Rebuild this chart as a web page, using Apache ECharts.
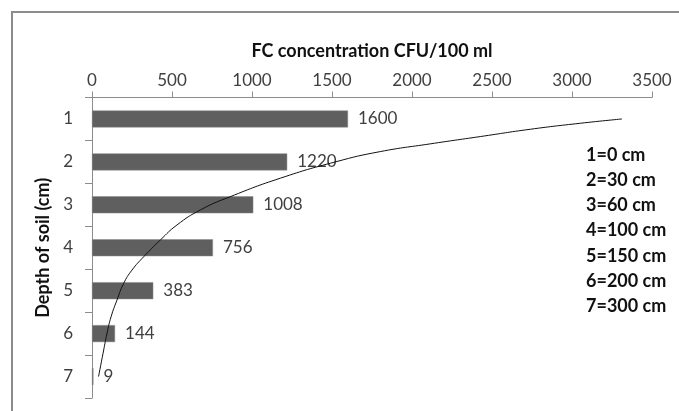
<html>
<head>
<meta charset="utf-8">
<title>FC concentration</title>
<style type="text/css">
body { margin: 0; background: #fff; }
#chart { width: 679px; height: 411px; }
</style>
<script src="https://cdn.jsdelivr.net/npm/echarts@6/dist/echarts.min.js"></script>
</head>
<body>
<div id="chart"></div>
<script type="text/javascript">
// depth classes, top to bottom
var depths = ['1', '2', '3', '4', '5', '6', '7'];
var fc = [1600, 1220, 1008, 756, 383, 144, 9];
var depthKey = ['1=0 cm', '2=30 cm', '3=60 cm', '4=100 cm', '5=150 cm', '6=200 cm', '7=300 cm'];
var xTicks = [0, 3500, 500];

// trend curve: concentration and position on the depth scale
var trendFc = [3312, 3052, 2739, 2427, 2114, 1802, 1521, 1177, 864, 677, 531, 427, 323, 250, 198, 156, 119, 94, 69, 41];
var trendDepth = [1.0, 1.10, 1.24, 1.41, 1.58, 1.76, 2.0, 2.38, 2.81, 3.12, 3.47, 3.82, 4.21, 4.52, 4.83, 5.22, 5.61, 5.99, 6.46, 7.0];

var trend = [];
for (var i = 0; i < trendFc.length; i++) {
    trend.push([trendFc[i], trendDepth[i]]);
}

var font = 'Lato, "Noto Sans", sans-serif';
var keyText = [];
for (var j = 0; j < depthKey.length; j++) {
    keyText.push({
        type: 'text',
        left: 586,
        top: 146 + j * 25.2,
        style: { text: depthKey[j], fontFamily: font, fontSize: 18, fontWeight: 'bold', fill: '#111' }
    });
}

var myChart = echarts.init(document.getElementById('chart'));
var option = {
    animation: false,
    textStyle: { fontFamily: font },
    grid: { left: 92, right: 27, top: 97.5, bottom: 13 },
    graphic: [{
        type: 'rect',
        shape: { x: 12, y: 12, width: 720, height: 460 },
        style: { fill: 'none', stroke: '#8c8c8c', lineWidth: 2 }
    }].concat(keyText),
    xAxis: {
        type: 'value',
        position: 'top',
        min: xTicks[0],
        max: xTicks[1],
        interval: xTicks[2],
        name: 'FC concentration CFU/100 ml',
        nameLocation: 'middle',
        nameGap: 37,
        nameTextStyle: { fontSize: 18, fontWeight: 'bold', color: '#111', fontFamily: font },
        axisLine: { show: true, lineStyle: { color: '#8c8c8c' } },
        axisTick: { show: true, length: 6, lineStyle: { color: '#8c8c8c' } },
        axisLabel: {
            fontSize: 17, color: '#404040', margin: 8, fontFamily: font,
            formatter: function (v) { return String(v); }
        },
        splitLine: { show: false }
    },
    yAxis: [{
        type: 'category',
        data: depths,
        inverse: true,
        name: 'Depth of soil (cm)',
        nameLocation: 'middle',
        nameGap: 35,
        nameTextStyle: { fontSize: 18, fontWeight: 'bold', color: '#111', fontFamily: font },
        axisLine: { show: true, lineStyle: { color: '#8c8c8c' } },
        axisTick: { show: true, length: 7, lineStyle: { color: '#8c8c8c' } },
        axisLabel: { fontSize: 17, color: '#404040', margin: 19, fontFamily: font }
    }, {
        type: 'value',
        min: 0.5,
        max: 7.5,
        inverse: true,
        show: false
    }],
    series: [{
        name: 'FC',
        type: 'bar',
        data: fc,
        barWidth: 17,
        itemStyle: { color: '#5f5f5f', borderColor: '#8a8a8a', borderWidth: 0.5 },
        label: {
            show: true,
            position: 'right',
            distance: 10,
            fontSize: 17,
            color: '#404040',
            fontFamily: font
        }
    }, {
        name: 'trend',
        type: 'line',
        yAxisIndex: 1,
        data: trend,
        smooth: true,
        symbol: 'none',
        lineStyle: { color: '#111', width: 1 },
        z: 5
    }]
};
myChart.setOption(option);
</script>
</body>
</html>
